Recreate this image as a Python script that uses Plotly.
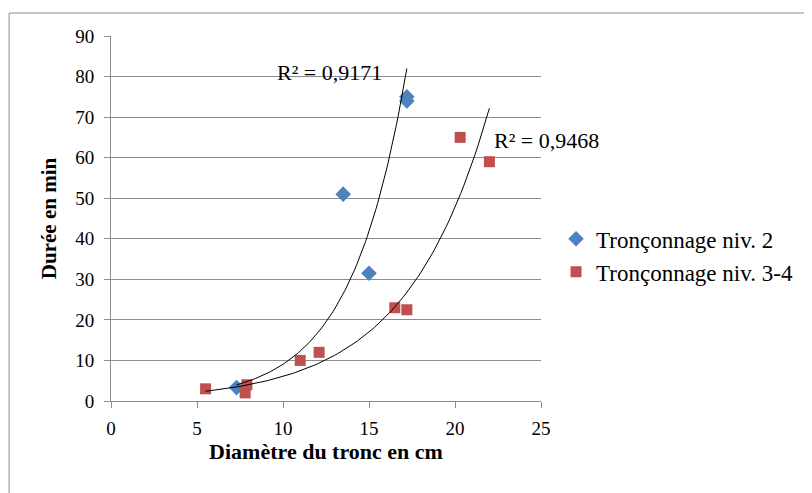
import plotly.graph_objects as go
import numpy as np

# Tronçonnage niv. 2
x_niv2 = [7.3, 13.5, 15.0, 17.2, 17.2]
y_niv2 = [3.3, 51.0, 31.5, 75.0, 74.0]

# Tronçonnage niv. 3-4
x_niv34 = [5.5, 7.9, 7.8, 11.0, 12.1, 16.5, 17.2, 20.3, 22.0]
y_niv34 = [3.0, 4.0, 2.0, 10.0, 12.0, 23.0, 22.5, 65.0, 59.0]

r2_labels = ["R² = 0,9171", "R² = 0,9468"]

font = "Liberation Serif"
blue = "#4F81BD"
red = "#C0504D"
grid = "#8C8C8C"


def expo_fit(x, y, x_start):
    # exponential trendline (least squares on ln y), like Excel
    b, ln_a = np.polyfit(np.array(x), np.log(np.array(y)), 1)
    xs = np.linspace(x_start, max(x), 100)
    return xs, np.exp(ln_a) * np.exp(b * xs)


fig = go.Figure()

fig.add_trace(go.Scatter(x=x_niv2, y=y_niv2, mode="markers", name="Tronçonnage niv. 2",
                         marker=dict(symbol="diamond", size=12, color=blue)))
fig.add_trace(go.Scatter(x=x_niv34, y=y_niv34, mode="markers", name="Tronçonnage niv. 3-4",
                         marker=dict(symbol="square", size=11, color=red)))

tx, ty = expo_fit(x_niv2, y_niv2, min(x_niv2))
fig.add_trace(go.Scatter(x=tx, y=ty, mode="lines", line=dict(color="black", width=1),
                         showlegend=False, hoverinfo="skip"))
tx, ty = expo_fit(x_niv34, y_niv34, min(x_niv34))
fig.add_trace(go.Scatter(x=tx, y=ty, mode="lines", line=dict(color="black", width=1),
                         showlegend=False, hoverinfo="skip"))

fig.add_annotation(x=12.73, y=81.1, text=r2_labels[0], showarrow=False, xanchor="center",
                   yanchor="middle", font=dict(family=font, size=22, color="black"))
fig.add_annotation(x=22.15, y=64.3, text=r2_labels[1], showarrow=False, xanchor="left",
                   yanchor="middle", font=dict(family=font, size=22, color="black"))

# chart frame (only top and left edges fall inside the picture)
fig.add_shape(type="rect", xref="paper", yref="paper", x0=-0.237, x1=1.64, y0=-0.3, y1=1.063,
              line=dict(color="#8C8C8C", width=1))

fig.update_xaxes(range=[0, 25], dtick=5, showgrid=False, showline=True, linecolor=grid,
                 ticks="outside", ticklen=6, tickcolor=grid, zeroline=False, ticklabelstandoff=4,
                 tickfont=dict(family=font, size=19, color="black"),
                 title=dict(text="<b>Diamètre du tronc en cm</b>", standoff=4,
                            font=dict(family=font, size=22, color="black")))
fig.update_yaxes(range=[0, 90], dtick=10, showgrid=True, gridcolor=grid, showline=True,
                 linecolor=grid, ticks="outside", ticklen=6, tickcolor=grid, zeroline=False,
                 ticklabelstandoff=6,
                 tickfont=dict(family=font, size=19, color="black"),
                 title=dict(text="<b>Durée en min</b>", standoff=12,
                            font=dict(family=font, size=21, color="black")))

# body has an 8px margin, so the figure is 8px smaller and margins shifted
fig.update_layout(
    width=804, height=485,
    margin=dict(l=103, r=271, t=28, b=92),
    plot_bgcolor="white", paper_bgcolor="white",
    font=dict(family=font, color="black"),
    legend=dict(x=1.035, y=0.399, xanchor="left", yanchor="middle",
                font=dict(family=font, size=23, color="black")),
)

fig.write_html("out.html")
